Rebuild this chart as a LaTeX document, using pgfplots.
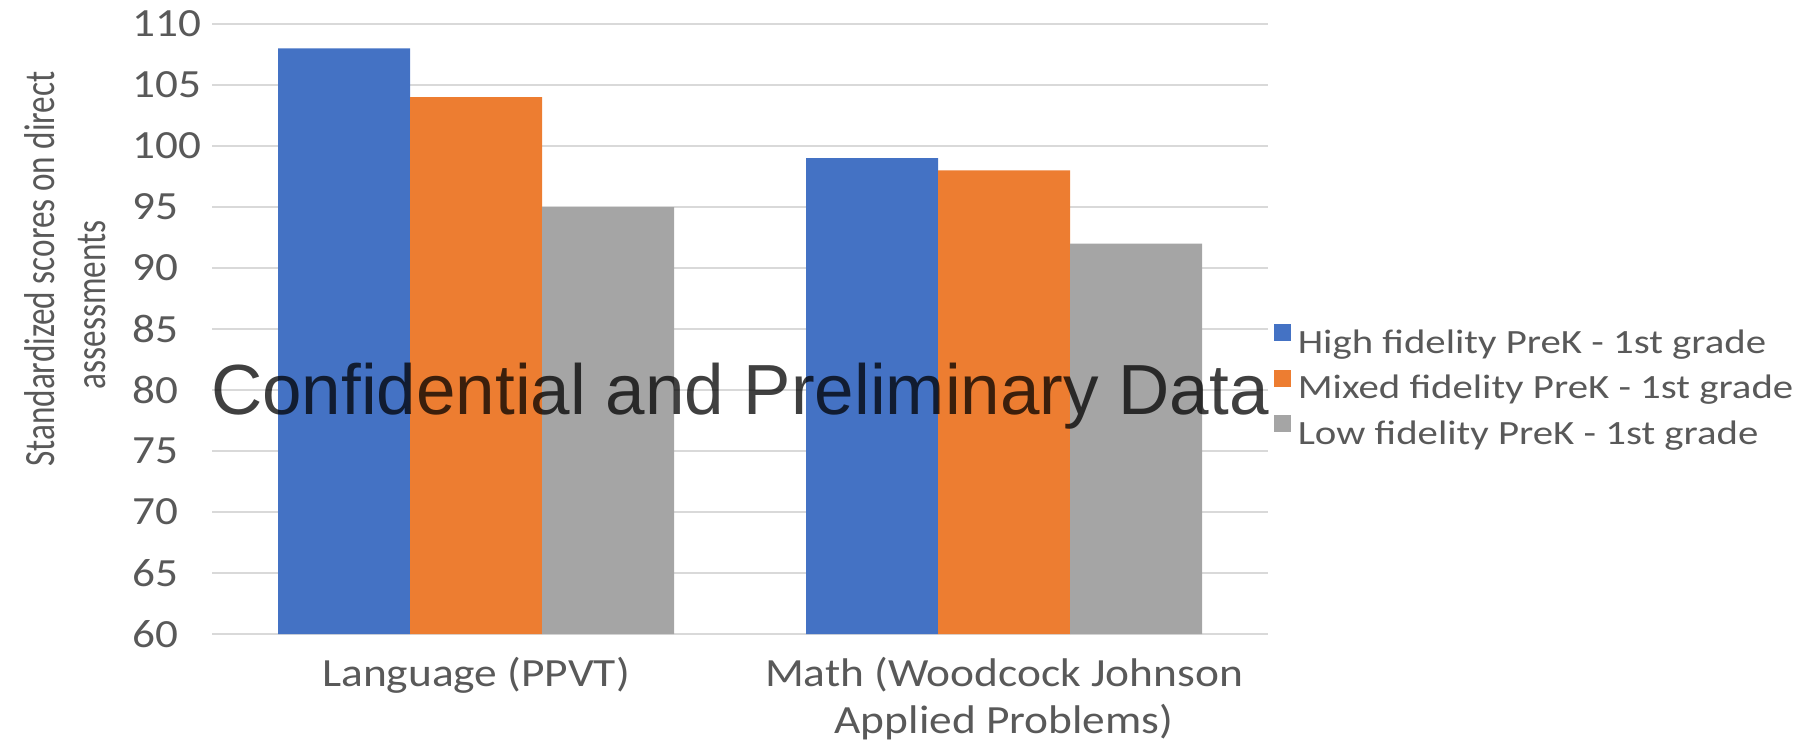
\documentclass[border=0pt]{standalone}
\usepackage{fontspec}
\setmainfont{Carlito}
\newfontfamily\catfont{Carlito}[FakeStretch=1.135]
\newfontfamily\tickfont{Carlito}[FakeStretch=1.13]
\newfontfamily\legfont{Carlito}[FakeStretch=1.2]
\newfontfamily\wmfont{Liberation Sans}
\usepackage{pgfplots}
\pgfplotsset{compat=1.18}
\definecolor{cblue}{HTML}{4472C4}
\definecolor{corange}{HTML}{ED7D31}
\definecolor{cgray}{HTML}{A5A5A5}
\definecolor{gridc}{HTML}{D9D9D9}
\definecolor{txt}{HTML}{595959}
\begin{document}
\begin{tikzpicture}
\useasboundingbox (0,0) rectangle (899.5pt,370.5pt);
\begin{axis}[
  at={(106pt,53.5pt)}, anchor=south west,
  width=528pt, height=305pt, scale only axis,
  ybar=0pt, bar width=0.25,
  xmin=-0.5, xmax=1.5, ymin=60, ymax=110,
  xtick={0,1},
  xticklabels={Language (PPVT), {Math (Woodcock Johnson\\Applied Problems)}},
  ytick={60,65,...,110},
  axis line style={draw=none},
  major tick length=0pt,
  ymajorgrids, grid style={gridc, line width=1pt},
  /pgf/number format/assume math mode=true,
  yticklabel style={anchor=west, xshift=-40pt, inner sep=0pt, font=\tickfont\fontsize{20}{24}\selectfont, text=txt},
  xticklabel style={anchor=north, yshift=-11.5pt, inner sep=0pt, align=center, font=\catfont\fontsize{20}{23.5}\selectfont, text=txt},
  clip mode=individual,
  legend style={at={(1,0.4025)}, anchor=west, xshift=3pt, draw=none, fill=none, inner sep=0pt, outer sep=0pt,
    row sep=4.25pt, column sep=3.4pt, font=\legfont\fontsize{17}{21.5}\selectfont, text=txt,
    nodes={inner sep=0pt, text height=13pt, text depth=4pt}},
  legend cell align=left,
  legend image code/.code={\fill[#1] (0pt,1.5pt) rectangle (8.5pt,10pt);},
]
\addplot[fill=cblue, draw=none] coordinates {(0,108) (1,99)};
\addplot[fill=corange, draw=none] coordinates {(0,104) (1,98)};
\addplot[fill=cgray, draw=none] coordinates {(0,95) (1,92)};
\legend{High fidelity PreK - 1st grade, Mixed fidelity PreK - 1st grade, Low fidelity PreK - 1st grade}
\node[font=\wmfont\fontsize{35.5}{40}\selectfont, text=black, text opacity=0.75, anchor=base, inner sep=0pt]
  at (axis cs:0.5,78) {Confidential and Preliminary Data};
\end{axis}
\node[rotate=90, anchor=base, inner sep=0pt, font=\fontsize{16.6}{20}\selectfont, text=txt] at (27pt,236pt) {\scalebox{1}[1.3]{Standardized scores on direct}};
\node[rotate=90, anchor=base, inner sep=0pt, font=\fontsize{16.6}{20}\selectfont, text=txt] at (52.5pt,218pt) {\scalebox{1}[1.3]{assessments}};
\end{tikzpicture}
\end{document}
